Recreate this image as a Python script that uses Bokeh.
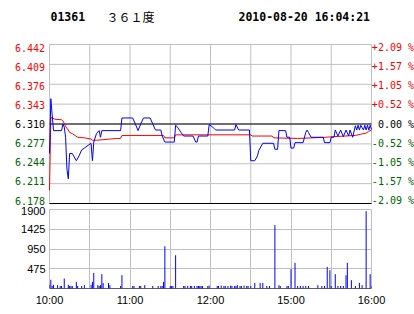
from bokeh.plotting import figure
from bokeh.models import Range1d, FixedTicker, Span, ColumnDataSource
from bokeh.core.properties import value
from bokeh.layouts import column
from bokeh.embed import file_html
from bokeh.resources import INLINE

# ---------------- data ----------------
prev_close = 6.310
price_ticks = [6.178, 6.211, 6.244, 6.277, 6.310, 6.343, 6.376, 6.409, 6.442]
price_tick_labels = ["6.178", "6.211", "6.244", "6.277", "6.310",
                     "6.343", "6.376", "6.409", "6.442"]
pct_tick_labels = ["-2.09 %", "-1.57 %", "-1.05 %", "-0.52 %", "0.00 %",
                   "+0.52 %", "+1.05 %", "+1.57 %", "+2.09 %"]

grid_minutes = [0, 30, 60, 90, 120, 150, 180, 210, 240]
time_ticks = [0, 60, 120, 180, 240]
time_labels = ["10:00", "11:00", "12:00", "15:00", "16:00"]
vol_ticks = [475, 950, 1425, 1900]

stock_code = "01361"
stock_name = "３６１度"
timestamp = "2010-08-20 16:04:21"

# price line (minute index in trading session, price)
price_min = [0, 1, 2, 3, 9, 10, 11, 12, 13, 14, 15, 17, 20, 22, 24, 26, 29, 31,
             32, 33, 35, 37, 38, 39, 53, 54, 62, 64, 66, 68, 70, 75, 77, 79, 83,
             84, 86, 93, 94, 95, 98, 100, 107, 109, 110, 111, 118, 119, 121, 123,
             124, 138, 139, 141, 149, 150, 153, 155, 156, 159, 167, 168, 170, 171,
             176, 177, 179, 180, 182, 183, 189, 191, 192, 193, 195, 204, 205, 209,
             210, 212, 213, 215, 217, 219, 221, 223, 224, 226, 228, 229, 230, 231,
             232, 234, 235, 236, 237, 238, 239, 240]
price_val = [6.261, 6.352, 6.325, 6.299, 6.299, 6.310, 6.305, 6.288, 6.235, 6.219,
             6.261, 6.261, 6.249, 6.257, 6.267, 6.270, 6.275, 6.278,
             6.249, 6.280, 6.294, 6.299, 6.288, 6.299, 6.299, 6.320, 6.320, 6.310,
             6.299, 6.310, 6.320, 6.320, 6.310, 6.300, 6.300,
             6.290, 6.280, 6.280, 6.308, 6.306, 6.296, 6.290, 6.290, 6.280, 6.280,
             6.290, 6.290, 6.309, 6.306, 6.302,
             6.300, 6.300, 6.309, 6.300, 6.300, 6.249, 6.249, 6.257, 6.266, 6.278,
             6.278, 6.268, 6.268, 6.299,
             6.299, 6.288, 6.288, 6.270, 6.270, 6.279, 6.279, 6.296, 6.300, 6.296,
             6.288, 6.288, 6.279, 6.279,
             6.288, 6.288, 6.300, 6.290, 6.300, 6.289, 6.300, 6.290, 6.300, 6.288,
             6.307, 6.300, 6.308, 6.300,
             6.308, 6.300, 6.308, 6.300, 6.308, 6.300, 6.308, 6.301]

# average price line
avg_min = [0, 1, 4, 9, 10, 11, 12, 14, 15, 17, 19, 21, 26, 31, 32, 35, 40, 45,
           50, 53, 54, 85, 86, 93, 94, 150, 151, 166, 167, 185, 206, 212, 228,
           232, 236, 238, 240]
avg_val = [6.200, 6.321, 6.318, 6.317, 6.315, 6.311, 6.306, 6.300, 6.296, 6.294,
           6.291, 6.288, 6.287, 6.285, 6.283, 6.283, 6.284, 6.285,
           6.286, 6.286, 6.291, 6.291, 6.287, 6.287, 6.292, 6.292, 6.290, 6.290,
           6.287, 6.286, 6.288, 6.289, 6.291,
           6.293, 6.295, 6.298, 6.300]

# volume
vol_min = [0, 1, 2, 3, 6, 8, 9, 11, 14, 15, 16, 17, 20, 21, 24, 26, 31, 32, 33,
           36, 37, 38, 39, 40, 44, 45, 53, 54, 62, 63, 67, 68, 71, 77, 81, 83,
           84, 85, 86, 90, 91, 92, 94, 100, 101, 103, 105, 106, 108, 110, 111,
           112, 113, 114, 118, 119, 125, 126, 128, 130, 131, 133, 135, 136, 138,
           139, 140, 142, 143, 145, 147, 148, 150, 153, 157, 159, 162, 164, 168,
           171, 172, 177, 178, 180, 183, 185, 187, 189, 191, 193, 200, 203, 205,
           207, 209, 210, 213, 215, 217, 219, 221, 222, 225, 228, 231, 233, 236,
           239, 240]
vol_val = [90, 210, 60, 90, 80, 60, 60, 240, 90, 60, 60, 60, 160, 60, 60, 80, 90,
           160, 375, 80, 60, 80, 345, 130, 130, 80, 60, 320, 60, 60, 60, 60, 80,
           60, 60, 60, 60, 160, 1017, 60, 60, 60, 800, 60, 60, 60, 60, 60, 60, 60,
           60, 60, 60, 60, 60, 70, 60, 60, 70, 60, 60, 60, 70, 60, 60, 60, 80, 60,
           60, 70, 60, 60, 60, 135, 135, 135, 60, 60, 1523, 80, 60, 60, 60, 465,
           617, 60, 60, 60, 60, 60, 80, 60, 60, 520, 440, 60, 345, 60, 60, 60, 320,
           617, 200, 60, 135, 80, 1860, 345, 60]

# ---------------- styling / layout constants ----------------
GRID = "#c0c0c0"
RED = "#ff0000"
GREEN = "#006400"
BLUE = "#0000ff"
MONO = "DejaVu Sans Mono"
SANS = "Liberation Sans"

W = 414
H1, H2 = 206, 108
FL, FR = 49, 371          # frame left / right pixel
PT, PB = 44, 203          # price panel top / bottom pixel

t0, t1 = grid_minutes[0], grid_minutes[-1]
p_lo, p_hi = price_ticks[0], price_ticks[-1]
kx = (FR - FL) / (t1 - t0)
ky = (PB - PT) / (p_hi - p_lo)

def px_to_x(px):
    return t0 + (px - FL) / kx

def py_to_y(py):
    return p_hi - (py - PT) / ky

# ---------------- price panel (frame covers the whole canvas) ----------------
p1 = figure(width=W, height=H1,
            x_range=Range1d(px_to_x(0), px_to_x(W)),
            y_range=Range1d(py_to_y(H1), py_to_y(0)),
            x_axis_location=None, y_axis_location=None,
            toolbar_location=None, output_backend="svg",
            min_border=0, frame_align=False)
p1.outline_line_color = None
p1.grid.visible = False

n_t = len(grid_minutes)
n_p = len(price_ticks)
# grid
p1.segment(x0=grid_minutes, y0=[p_lo] * n_t, x1=grid_minutes, y1=[p_hi] * n_t,
           line_color=GRID, line_width=1)
p1.segment(x0=[t0] * n_p, y0=price_ticks, x1=[t1] * n_p, y1=price_ticks,
           line_color=GRID, line_width=1)
p1.segment(x0=[t0, t0], y0=[prev_close, p_lo], x1=[t1, t1], y1=[prev_close, p_lo],
           line_color="black", line_width=1)

p1.line(avg_min, avg_val, line_color=RED, line_width=1)
p1.line(price_min, price_val, line_color=BLUE, line_width=1)

colors = [RED if t > prev_close else ("black" if t == prev_close else GREEN)
          for t in price_ticks]
offs = [-3 + 6 * i / (n_p - 1) for i in range(n_p)]
lab_src = ColumnDataSource(dict(y=price_ticks, t=price_tick_labels,
                                pct=pct_tick_labels, c=colors, off=offs))
p1.text(x=px_to_x(44.5), y="y", text="t", source=lab_src, text_color="c",
        text_align="right", text_baseline="middle", y_offset="off",
        text_font=value(MONO), text_font_size="10px")
p1.text(x=px_to_x(413.5), y="y", text="pct", source=lab_src, text_color="c",
        text_align="right", text_baseline="middle", y_offset="off",
        text_font=value(MONO), text_font_size="10px")

ty = py_to_y(16)
p1.text(x=[px_to_x(50)], y=[ty], text=[stock_code], text_font=value(MONO),
        text_font_style="bold", text_font_size="11.5px", text_baseline="middle",
        text_color="black")
p1.text(x=[px_to_x(106)], y=[ty], text=[stock_name],
        text_font=value("Noto Sans CJK SC"), text_font_size="12px",
        text_baseline="middle", text_color="black")
p1.text(x=[px_to_x(238)], y=[ty], text=[timestamp], text_font=value(MONO),
        text_font_style="bold", text_font_size="11.5px", text_baseline="middle",
        text_color="black")

# ---------------- volume panel ----------------
p2 = figure(width=W, height=H2, x_range=Range1d(t0, t1),
            y_range=Range1d(0, vol_ticks[-1]),
            toolbar_location=None, output_backend="svg",
            min_border_left=FL, min_border_right=W - FR,
            min_border_top=3, min_border_bottom=26, frame_align=False)
p2.outline_line_color = GRID
p2.xgrid.ticker = FixedTicker(ticks=grid_minutes)
p2.ygrid.ticker = FixedTicker(ticks=vol_ticks)
p2.grid.grid_line_color = GRID

p2.yaxis.ticker = FixedTicker(ticks=vol_ticks)
p2.xaxis.ticker = FixedTicker(ticks=time_ticks)
p2.xaxis.major_label_overrides = {t: s for t, s in zip(time_ticks, time_labels)}
for ax in (p2.xaxis[0], p2.yaxis[0]):
    ax.axis_line_color = None
    ax.major_tick_line_color = None
    ax.minor_tick_line_color = None
    ax.major_tick_out = 0
    ax.major_tick_in = 0
    ax.minor_tick_out = 0
    ax.minor_tick_in = 0
    ax.major_label_text_font = SANS
    ax.major_label_text_font_size = "11px"
    ax.major_label_text_color = "black"
p2.yaxis.major_label_standoff = 4
p2.xaxis.major_label_standoff = 5

p2.segment(x0=vol_min, y0=[0] * len(vol_min), x1=vol_min, y1=vol_val,
           line_color=BLUE, line_width=1)
p2.add_layout(Span(location=0, dimension="width", line_color="black", line_width=1))

layout = column(p1, p2)
open("out.html", "w").write(file_html(layout, INLINE))
